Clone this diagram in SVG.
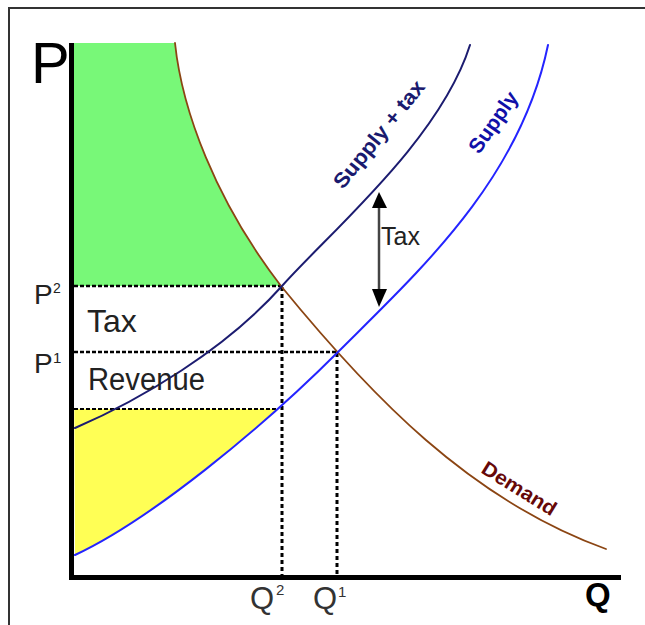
<svg xmlns="http://www.w3.org/2000/svg" width="645" height="625" viewBox="0 0 645 625">
<style>
.lbl{font-family:"Liberation Sans",Arial,sans-serif}
.curve{fill:none;stroke-linejoin:round;stroke-linecap:round}
.dot{stroke:#000;fill:none}
</style>
<defs>
<clipPath id="yclip"><rect x="74" y="409" width="300" height="160"/></clipPath>
</defs>
<rect x="0" y="0" width="645" height="625" fill="#fff"/>
<rect x="9" y="8" width="700" height="700" fill="#fff" stroke="#333" stroke-width="2"/>
<g id="areas">
<path d="M74,43 L175,43 C182,110 215,200 281,286 L74,286 Z" fill="#78f878"/>
<path d="M75,555 C150,520 260,430 338,352 L74,352 Z" fill="#ffff55" clip-path="url(#yclip)"/>
</g>
<g id="connectors">
<line class="dot" x1="74" y1="286" x2="281" y2="286" stroke-width="2.5" stroke-dasharray="4 2"/>
<line class="dot" x1="74" y1="352" x2="337" y2="352" stroke-width="2.5" stroke-dasharray="4 2"/>
<line class="dot" x1="74" y1="409" x2="278" y2="409" stroke-width="2" stroke-dasharray="4 2" stroke="#333"/>
<line class="dot" x1="282" y1="287" x2="282" y2="575" stroke-width="3" stroke-dasharray="4 3"/>
<line class="dot" x1="337" y1="353" x2="337" y2="575" stroke-width="3" stroke-dasharray="4 3"/>
<path id="demand" class="curve" stroke="#8b4513" stroke-width="1.8" d="M175,43 C182,110 215,200 281,286 C370,395 470,500 606,549"/>
<path id="supply" class="curve" stroke="#2424ff" stroke-width="2" d="M75,555 C150,520 260,430 338,352 C420,270 520,180 548,45"/>
<path id="supplytax" class="curve" stroke="#1c1c70" stroke-width="2" d="M75,428 C140,400 225,350 282,286 C330,232 440,140 470,45"/>
<g id="taxarrow">
<line x1="379" y1="205" x2="379" y2="292" stroke="#444" stroke-width="2.5"/>
<polygon points="379,192 372,208 387,208" fill="#000"/>
<polygon points="379,307 372,289 387,289" fill="#000"/>
</g>
</g>
<g id="axes">
<line x1="71.5" y1="43" x2="71.5" y2="580" stroke="#000" stroke-width="5"/>
<line x1="69" y1="577.5" x2="621" y2="577.5" stroke="#000" stroke-width="5"/>
</g>
<g id="labels" class="lbl">
<text x="31" y="83" font-size="58" fill="#000">P</text>
<text x="34" y="304" font-size="28" fill="#222">P</text>
<text x="53" y="293" font-size="14" fill="#222">2</text>
<text x="34" y="373" font-size="28" fill="#222">P</text>
<text x="53" y="363" font-size="15" fill="#222">1</text>
<text x="87" y="332" font-size="32" fill="#222">Tax</text>
<text x="88" y="390" font-size="31" fill="#222" textLength="117" lengthAdjust="spacingAndGlyphs">Revenue</text>
<text x="381" y="245" font-size="25" fill="#222">Tax</text>
<text x="250" y="609" font-size="31" fill="#333">Q</text>
<text x="276" y="595" font-size="15" fill="#333">2</text>
<text x="313" y="609" font-size="31" fill="#333">Q</text>
<text x="338" y="597" font-size="15" fill="#333">1</text>
<text x="585" y="606" font-size="33" font-weight="bold" fill="#000">Q</text>
<text transform="translate(343,190) rotate(-51)" font-size="21" font-weight="bold" fill="#1a1a6e" textLength="132" lengthAdjust="spacingAndGlyphs">Supply + tax</text>
<text transform="translate(479,155) rotate(-55)" font-size="21" font-weight="bold" fill="#1010a8">Supply</text>
<text transform="translate(480,472) rotate(32)" font-size="20" font-weight="bold" fill="#660808" textLength="84" lengthAdjust="spacingAndGlyphs">Demand</text>
</g>
</svg>
